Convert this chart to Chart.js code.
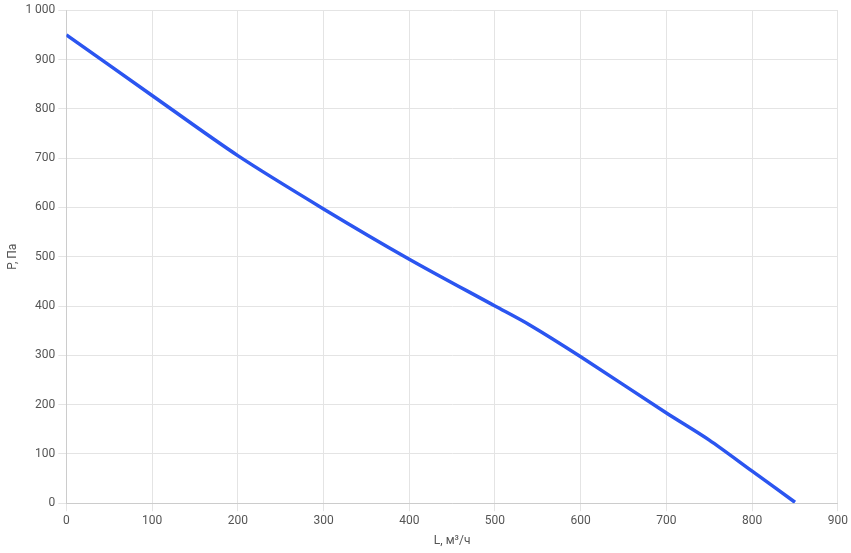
<!DOCTYPE html>
<html>
<head>
<meta charset="utf-8">
<script src="https://cdn.jsdelivr.net/npm/chart.js@4/dist/chart.umd.min.js"></script>
<style>
  html, body { margin: 0; padding: 0; background: #fff; }
  #wrap { width: 851px; height: 553px; }
</style>
</head>
<body>
<div id="wrap"><canvas id="c"></canvas></div>
<script>
// Airflow (m3/h) and pressure (Pa)
var flowValues = [0, 100, 200, 300, 400, 500, 540, 600, 700, 750, 800, 850];
var pressureValues = [950, 827, 705, 597, 495, 400, 362, 297, 183, 128, 65, 2];

var points = flowValues.map(function (x, i) { return { x: x, y: pressureValues[i] }; });

function fmt(v) {
    return String(v).replace(/\B(?=(\d{3})+(?!\d))/g, ' ');
}

Chart.defaults.font.family = 'Roboto, Arial, sans-serif';
Chart.defaults.font.size = 12;
Chart.defaults.color = '#555';

new Chart(document.getElementById('c'), {
    type: 'line',
    data: {
        datasets: [{
            data: points,
            borderColor: '#2b55f0',
            borderWidth: 3.5,
            pointRadius: 0,
            tension: 0.3,
            fill: false
        }]
    },
    options: {
        responsive: true,
        maintainAspectRatio: false,
        animation: false,
        layout: { padding: { top: 4, right: 12, left: 4, bottom: 3 } },
        plugins: { legend: { display: false }, tooltip: { enabled: false } },
        scales: {
            x: {
                type: 'linear',
                min: 0, max: 900,
                ticks: { stepSize: 100, callback: fmt },
                grid: { color: '#e4e4e4' },
                title: { display: true, text: 'L, м³/ч', padding: 2 }
            },
            y: {
                min: 0, max: 1000,
                ticks: { stepSize: 100, callback: fmt },
                grid: { color: '#e4e4e4' },
                title: { display: true, text: 'P, Па', padding: 2 }
            }
        }
    }
});
</script>
</body>
</html>
